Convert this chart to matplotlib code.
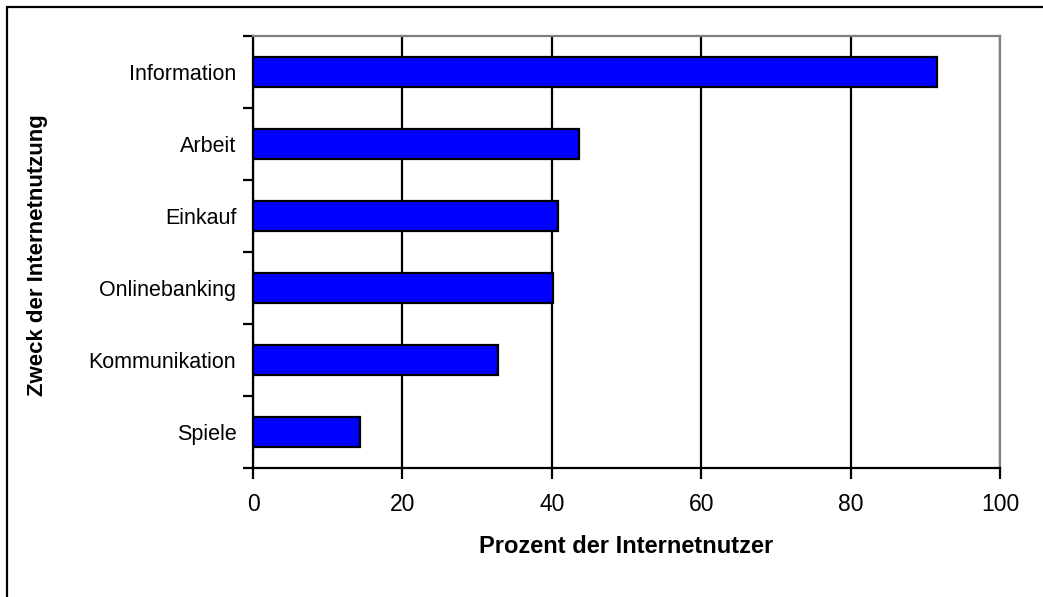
import matplotlib.pyplot as plt
import matplotlib.patches as patches
import numpy as np

plt.rcParams['font.family'] = ['Liberation Sans', 'DejaVu Sans']

categories = ['Information', 'Arbeit', 'Einkauf', 'Onlinebanking', 'Kommunikation', 'Spiele']
values = [91.5, 43.6, 40.8, 40.2, 32.8, 14.3]
xticks = [0, 20, 40, 60, 80, 100]

fig = plt.figure(figsize=(10.43, 5.97), dpi=100)
ax = fig.add_axes([253 / 1043, 1 - 468 / 597, 747 / 1043, 432 / 597])

y = np.arange(len(categories))
ax.barh(y, values, height=0.41, color='#0000ff', edgecolor='black', linewidth=1.6, zorder=3)

ax.set_xlim(0, 100)
ax.set_ylim(len(categories) - 0.5, -0.5)
ax.set_xticks(xticks)
ax.set_xticklabels([str(t) for t in xticks], fontsize=16.5)
ax.set_yticks(y)
ax.set_yticklabels(categories, fontsize=15.5)
ax.tick_params(axis='y', length=0, pad=12)
ax.set_yticks(np.arange(len(categories) + 1) - 0.5, minor=True)
ax.tick_params(axis='y', which='minor', length=7, width=1.6, direction='out')
ax.tick_params(axis='x', length=8, width=1.6, direction='out', pad=10)

ax.grid(axis='x', color='black', linewidth=1.6, zorder=1)
ax.set_axisbelow(True)

for side in ['left', 'bottom']:
    ax.spines[side].set_color('black')
    ax.spines[side].set_linewidth(1.6)
for side in ['top', 'right']:
    ax.spines[side].set_color('#808080')
    ax.spines[side].set_linewidth(1.6)

ax.set_xlabel('Prozent der Internetnutzer', fontsize=17, fontweight='bold', labelpad=14)
fig.text(38 / 1043, 1 - 255 / 597, 'Zweck der Internetnutzung', fontsize=16, fontweight='bold',
         rotation=90, ha='center', va='center')

# outer frame, cut off at right and bottom
frame = patches.Rectangle((7 / 1043, -0.1), 1.2, 1.1 - 7 / 597, transform=fig.transFigure,
                          fill=False, edgecolor='black', linewidth=1.6, clip_on=False)
fig.add_artist(frame)

fig.savefig('out.png', dpi=100)
